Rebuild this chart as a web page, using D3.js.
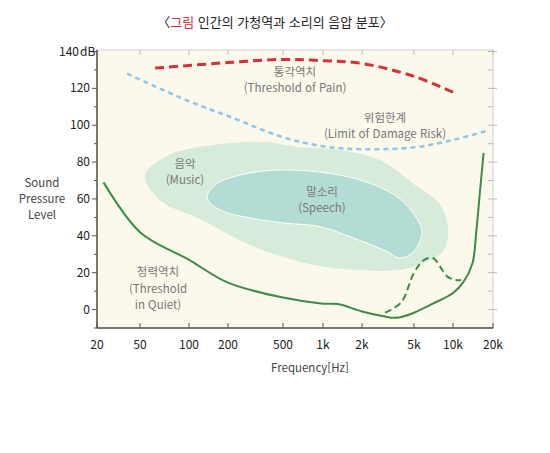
<!DOCTYPE html>
<html lang="ko">
<head>
<meta charset="utf-8">
<script src="https://cdn.jsdelivr.net/npm/d3@7"></script>
<style>
  body { margin: 0; background: #fff; }
  text { font-family: "Noto Sans CJK KR", "Noto Sans", sans-serif; }
</style>
</head>
<body>
<script>
// data: [frequency Hz, dB]
var freqTicks = [20, 50, 100, 200, 500, 1000, 2000, 5000, 10000, 20000];
var freqLabels = ["20", "50", "100", "200", "500", "1k", "2k", "5k", "10k", "20k"];
var dbTicks = [0, 20, 40, 60, 80, 100, 120, 140];
var quiet = [[23,69],[50,42],[100,27],[200,14.6],[500,6.5],[1000,3.2],[1300,3],[2000,-1],[3000,-3.8],[3500,-4.5],[4000,-4],[5000,-1.7],[7000,3.2],[10000,9],[12000,15],[14000,25],[15000,43],[16000,65],[17000,85]];
var quietDip = [[3000,-1.7],[4000,4],[5000,20],[6000,27],[7000,28],[8000,23],[9000,18],[10500,16],[11500,16]];
var pain = [[62,131],[200,134],[500,135.7],[1000,135],[2000,133.5],[5000,126.5],[10000,118]];
var damage = [[38,128],[100,113],[200,105],[500,93.5],[1000,88.6],[2000,87],[5000,88],[10000,92],[18000,97]];
var music = [[53.6,73],[76,84],[145,89],[341,91],[671,88],[1353,86.5],[2750,81],[5090,67.6],[7940,57],[9170,43],[8450,32],[6080,25.4],[3900,21.6],[1615,21.6],[671,26],[289,35],[122,49],[66,59.5]];
var speech = [[138,60.5],[159,67.6],[244,73],[452,75.7],[950,74.6],[1930,70.3],[3580,62],[5090,51],[5770,41.6],[4900,31],[3900,28],[3000,32],[1615,39.5],[950,45],[500,47],[289,49.7],[174,54]];

var svg = d3.select("body").append("svg").attr("width", 550).attr("height", 453);
var L = 97, R = 493, T = 50, B = 328;

// frequency axis spacing in the original is not strictly logarithmic
var xs = d3.scaleLinear()
  .domain(freqTicks.map(function(f) { return Math.log10(f); }))
  .range([97, 140, 189, 228, 283, 323, 362, 414, 453, 493]);
var x = function(f) { return xs(Math.log10(f)); };
var y = d3.scaleLinear().domain([-10, 140]).range([B, 51.5]);

svg.append("rect").attr("x", L).attr("y", T).attr("width", R - L).attr("height", B - T)
  .attr("fill", "#fbf8ec").attr("stroke", "#cfcfcf");

var blobLine = d3.line().x(function(d) { return x(d[0]); }).y(function(d) { return y(d[1]); })
  .curve(d3.curveCatmullRomClosed);
var curveLine = d3.line().x(function(d) { return x(d[0]); }).y(function(d) { return y(d[1]); })
  .curve(d3.curveCatmullRom);

svg.append("path").attr("d", blobLine(music)).attr("fill", "#d6ebd9");
svg.append("path").attr("d", blobLine(speech)).attr("fill", "#b3ddd4").attr("stroke", "#fff").attr("stroke-width", 1);

svg.append("path").attr("d", curveLine(pain)).attr("fill", "none").attr("stroke", "#d7303a")
  .attr("stroke-width", 3).attr("stroke-dasharray", "9,5");
svg.append("path").attr("d", curveLine(damage)).attr("fill", "none").attr("stroke", "#8dc6ea")
  .attr("stroke-width", 2.5).attr("stroke-dasharray", "5,4");
svg.append("path").attr("d", curveLine(quiet)).attr("fill", "none").attr("stroke", "#3e8a4a").attr("stroke-width", 2);
svg.append("path").attr("d", curveLine(quietDip)).attr("fill", "none").attr("stroke", "#3e8a4a")
  .attr("stroke-width", 2).attr("stroke-dasharray", "7,4");

// ticks on frame
var minor = d3.range(-10, 141, 10);
minor.forEach(function(v) {
  var maj = v % 20 === 0;
  svg.append("line").attr("x1", L - (maj ? 5 : 3)).attr("x2", L).attr("y1", y(v)).attr("y2", y(v)).attr("stroke", "#555");
  svg.append("line").attr("x1", R - 5).attr("x2", R + (maj ? 4 : 0)).attr("y1", y(v)).attr("y2", y(v)).attr("stroke", "#bbb");
});
freqTicks.forEach(function(f) {
  svg.append("line").attr("x1", x(f)).attr("x2", x(f)).attr("y1", B).attr("y2", B - 5).attr("stroke", "#555");
  svg.append("line").attr("x1", x(f)).attr("x2", x(f)).attr("y1", T).attr("y2", T + 5).attr("stroke", "#bbb");
});
svg.append("line").attr("x1", L).attr("x2", L).attr("y1", T).attr("y2", B).attr("stroke", "#555").attr("stroke-width", 1.5);
svg.append("line").attr("x1", L).attr("x2", R).attr("y1", B).attr("y2", B).attr("stroke", "#555").attr("stroke-width", 1.5);

var lbl = svg.append("g").attr("font-size", 12).attr("fill", "#222");
dbTicks.forEach(function(v) {
  lbl.append("text").attr("x", v === 140 ? 79 : 90).attr("y", y(v) + 4).attr("text-anchor", "end").text(v);
});
lbl.append("text").attr("x", 80).attr("y", y(140) + 4).attr("text-anchor", "start").text("dB");
freqTicks.forEach(function(f, i) {
  lbl.append("text").attr("x", x(f)).attr("y", 349).attr("text-anchor", "middle").text(freqLabels[i]);
});
lbl.append("text").attr("x", 310).attr("y", 372).attr("text-anchor", "middle").attr("fill", "#444").attr("font-size", 11.5).text("Frequency[Hz]");
["Sound", "Pressure", "Level"].forEach(function(t, i) {
  lbl.append("text").attr("x", 42).attr("y", 187 + i * 16).attr("text-anchor", "middle").attr("fill", "#444").attr("font-size", 11.5).text(t);
});

var notes = [["통각역치", 295, 76], ["(Threshold of Pain)", 295, 92], ["위험한계", 385, 122], ["(Limit of Damage Risk)", 385, 138],
  ["음악", 185, 168], ["(Music)", 185, 184], ["말소리", 322, 196], ["(Speech)", 322, 212],
  ["청력역치", 158, 276], ["(Threshold", 158, 293], ["in Quiet)", 158, 309]];
var ng = svg.append("g").attr("font-size", 11.5).attr("fill", "#777").attr("text-anchor", "middle");
notes.forEach(function(n) { ng.append("text").attr("x", n[1]).attr("y", n[2]).text(n[0]); });

var title = svg.append("text").attr("x", 275).attr("y", 27).attr("text-anchor", "middle").attr("font-size", 13).attr("fill", "#222");
title.append("tspan").text("〈");
title.append("tspan").attr("fill", "#d7303a").text("그림");
title.append("tspan").text("  인간의 가청역과 소리의 음압 분포〉");
</script>
</body>
</html>
